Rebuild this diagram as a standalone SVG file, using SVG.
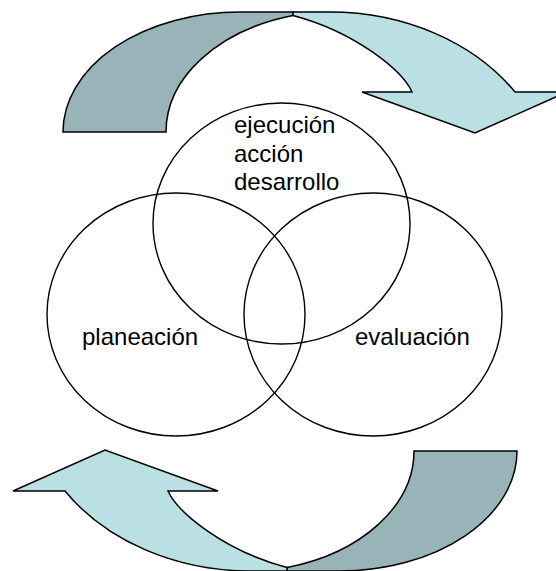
<svg xmlns="http://www.w3.org/2000/svg" width="556" height="571" viewBox="0 0 556 571">
  <style>
    .dark { fill: #98B4B8; stroke: #000; stroke-width: 1.5; stroke-linejoin: miter; }
    .light { fill: #BAE0E3; stroke: #000; stroke-width: 1.5; stroke-linejoin: miter; }
    .circ { fill: none; stroke: #000; stroke-width: 1.4; }
    .lbl { font-family: "Liberation Sans", Arial, sans-serif; font-size: 24px; fill: #000; }
  </style>
  <defs>
    <g id="curvedArrow">
      <path class="dark" d="M63,132 A177,120 0 0 1 240,12 L293,12 L293,15.5 A174,121 0 0 0 166,132 Z"/>
      <path class="light" d="M293,12 L330,12 A222,178 0 0 1 515,92 L567,92 L475,133 L362,92 L412,92 C402,70 355,32 293,15.5 Z"/>
    </g>
  </defs>
  <rect width="556" height="571" fill="#fff"/>
  <g id="connectors">
    <use href="#curvedArrow"/>
    <use href="#curvedArrow" transform="rotate(180 290 291.5)"/>
  </g>
  <g id="node-ejecucion">
    <ellipse class="circ" cx="281.5" cy="223.5" rx="128.5" ry="120.5"/>
    <text class="lbl" x="234" y="133">ejecución</text>
    <text class="lbl" x="234" y="161.5">acción</text>
    <text class="lbl" x="234" y="190">desarrollo</text>
  </g>
  <g id="node-planeacion">
    <ellipse class="circ" cx="176" cy="314.5" rx="129" ry="121.5"/>
    <text class="lbl" x="82" y="345">planeación</text>
  </g>
  <g id="node-evaluacion">
    <ellipse class="circ" cx="373" cy="314.5" rx="129" ry="121.5"/>
    <text class="lbl" x="355" y="345">evaluación</text>
  </g>
</svg>
